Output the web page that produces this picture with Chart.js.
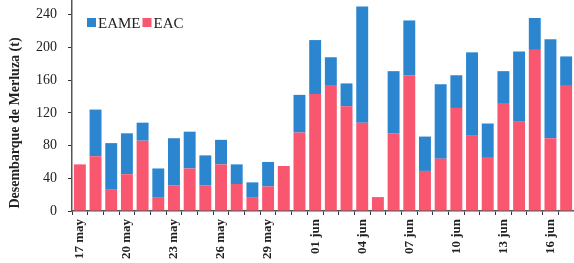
<!DOCTYPE html>
<html>
<head>
<meta charset="utf-8">
<script src="https://cdn.jsdelivr.net/npm/chart.js@4/dist/chart.umd.min.js"></script>
<style>
    html, body { margin: 0; padding: 0; background: #fff; }
    #wrap { width: 574px; height: 263px; position: relative; }
</style>
</head>
<body>
<div id="wrap"><canvas id="chart"></canvas></div>
<script>
const C_EAME = "#2b86cf";
const C_EAC = "#f9566f";

// one bar per day, 17 may .. 17 jun
const days = [
    "17 may", "18 may", "19 may", "20 may", "21 may", "22 may", "23 may", "24 may",
    "25 may", "26 may", "27 may", "28 may", "29 may", "30 may", "31 may", "01 jun",
    "02 jun", "03 jun", "04 jun", "05 jun", "06 jun", "07 jun", "08 jun", "09 jun",
    "10 jun", "11 jun", "12 jun", "13 jun", "14 jun", "15 jun", "16 jun", "17 jun"
];
const eac = [57, 67, 26, 45, 86, 17, 31, 52, 31, 57, 33, 17, 30, 55, 96, 143,
    154, 128, 108, 17, 95, 166, 49, 64, 126, 92, 66, 132, 109, 197, 89, 153];
const eame = [0, 57, 57, 50, 22, 35, 58, 45, 37, 30, 24, 18, 30, 0, 46, 66,
    34, 28, 142, 0, 76, 67, 42, 91, 40, 102, 41, 39, 86, 39, 121, 36];
const yTicks = [0, 40, 80, 120, 160, 200, 240];
const yTitle = "Desembarque de Merluza (t)";

const serif = "'Liberation Serif', 'DejaVu Serif', serif";
Chart.defaults.font.family = serif;
Chart.defaults.color = "#222";

// horizontal legend inside the plot + y title, drawn by hand
const extras = {
    id: "extras",
    afterDraw(chart) {
        const ctx = chart.ctx;
        ctx.save();
        ctx.font = "15px " + serif;
        ctx.textBaseline = "middle";
        ctx.fillStyle = "#222";
        let x = 87;
        const y = 23;
        [chart.data.datasets[1], chart.data.datasets[0]].forEach(ds => {
            ctx.fillStyle = ds.backgroundColor;
            ctx.fillRect(x, y - 5, 9, 9);
            ctx.fillStyle = "#222";
            ctx.fillText(ds.label, x + 11, y + 1);
            x += 11 + ctx.measureText(ds.label).width + 2;
        });

        ctx.translate(15, 123);
        ctx.rotate(-Math.PI / 2);
        ctx.font = "bold 14px " + serif;
        ctx.textAlign = "center";
        ctx.fillText(yTitle, 0, 0);
        ctx.restore();
    },
};

new Chart(document.getElementById("chart").getContext("2d"), {
    type: "bar",
    data: {
        labels: days,
        datasets: [
            { label: "EAC", data: eac, backgroundColor: C_EAC },
            { label: "EAME", data: eame, backgroundColor: C_EAME },
        ],
    },
    options: {
        responsive: true,
        maintainAspectRatio: false,
        animation: false,
        layout: { padding: { left: 0, right: 0, top: 0, bottom: 0 } },
        datasets: { bar: { categoryPercentage: 1, barPercentage: 0.76 } },
        scales: {
            x: {
                stacked: true,
                grid: { display: true, drawOnChartArea: false, tickLength: 4, color: "#333" },
                border: { color: "#555", width: 1.5 },
                ticks: {
                    autoSkip: false,
                    maxRotation: 90,
                    minRotation: 90,
                    padding: 4,
                    font: { size: 13, weight: "bold" },
                    callback: (v, i) => (i % 3 === 0 ? days[i] : ""),
                },
                afterFit: (s) => { s.height = 52; s.paddingLeft = 0; s.paddingRight = 0; },
            },
            y: {
                stacked: true,
                min: 0,
                max: 258,
                afterBuildTicks: (s) => { s.ticks = yTicks.map(v => ({ value: v })); },
                grid: { display: true, drawOnChartArea: false, tickLength: 4, color: "#333" },
                border: { color: "#555", width: 1.5 },
                ticks: { font: { size: 14 }, padding: 11 },
                afterFit: (s) => { s.width = 72; s.paddingTop = 0; s.paddingBottom = 0; },
            },
        },
        plugins: {
            legend: { display: false },
            tooltip: { enabled: false },
        },
    },
    plugins: [extras],
});
</script>
</body>
</html>
